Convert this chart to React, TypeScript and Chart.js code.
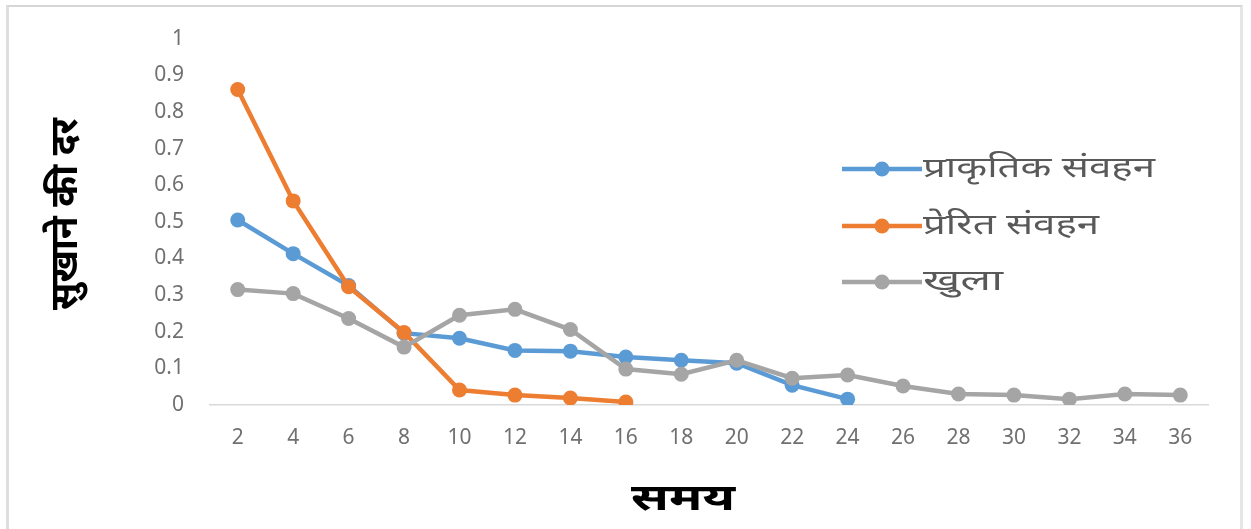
import React, { useEffect, useRef } from "react";
import { Chart, registerables } from "chart.js";

Chart.register(...registerables);

// Time (x-axis categories)
const timeLabels = ["2", "4", "6", "8", "10", "12", "14", "16", "18", "20", "22", "24", "26", "28", "30", "32", "34", "36"];

// Drying rate for each method
const naturalConvection = [0.505, 0.413, 0.326, 0.196, 0.182, 0.149, 0.147, 0.131, 0.122, 0.114, 0.054, 0.016, null, null, null, null, null, null];
const forcedConvection = [0.861, 0.557, 0.323, 0.198, 0.041, 0.027, 0.019, 0.008, null, null, null, null, null, null, null, null, null, null];
const openSun = [0.315, 0.304, 0.236, 0.158, 0.245, 0.261, 0.206, 0.098, 0.084, 0.122, 0.073, 0.082, 0.052, 0.030, 0.027, 0.016, 0.030, 0.027];

const seriesNames = ["प्राकृतिक संवहन", "प्रेरित संवहन", "खुला"];
const seriesColors = ["#5B9BD5", "#ED7D31", "#A5A5A5"];

const yTicks = [0, 0.1, 0.2, 0.3, 0.4, 0.5, 0.6, 0.7, 0.8, 0.9, 1];
const xTitle = "समय";
const yTitle = "सुखाने की दर";

const FONT = "'Noto Sans', 'DejaVu Sans', sans-serif";

// Draws text stretched horizontally to a given width
function drawWideText(ctx: CanvasRenderingContext2D, text: string, x: number, y: number, width: number) {
  const w = ctx.measureText(text).width;
  const sx = width / w;
  ctx.save();
  ctx.translate(x, y);
  ctx.scale(sx, 1);
  ctx.fillText(text, 0, 0);
  ctx.restore();
}

// Legend sits inside the plot, plus the two bold axis titles
const overlayPlugin = {
  id: "overlay",
  afterDraw(chart: any) {
    const { ctx } = chart;
    ctx.save();
    // legend
    const lx0 = 842;
    const lx1 = 922;
    const rows = [169, 226, 282];
    const widths = [232, 176, 80];
    seriesNames.forEach((name, i) => {
      const y = rows[i];
      ctx.strokeStyle = seriesColors[i];
      ctx.lineWidth = 4.5;
      ctx.beginPath();
      ctx.moveTo(lx0, y);
      ctx.lineTo(lx1, y);
      ctx.stroke();
      ctx.fillStyle = seriesColors[i];
      ctx.beginPath();
      ctx.arc((lx0 + lx1) / 2, y, 7.5, 0, Math.PI * 2);
      ctx.fill();
      ctx.fillStyle = "#595959";
      ctx.font = `28px ${FONT}`;
      ctx.textAlign = "left";
      ctx.textBaseline = "middle";
      drawWideText(ctx, name, lx1 + 1, y, widths[i]);
    });
    // axis titles
    ctx.fillStyle = "#000";
    ctx.textAlign = "left";
    ctx.textBaseline = "middle";
    ctx.font = `bold 36px ${FONT}`;
    drawWideText(ctx, xTitle, 631, 500, 104);
    ctx.translate(66, 214);
    ctx.rotate(-Math.PI / 2);
    ctx.font = `bold 38px ${FONT}`;
    drawWideText(ctx, yTitle, -96, 0, 192);
    ctx.restore();
  },
};

export default function App() {
  const canvasRef = useRef<HTMLCanvasElement | null>(null);

  useEffect(() => {
    const canvas = canvasRef.current;
    if (!canvas) return;
    const mk = (label: string, data: (number | null)[], color: string, order: number) => ({
      label,
      data,
      borderColor: color,
      backgroundColor: color,
      borderWidth: 4.5,
      pointRadius: 7.5,
      pointHoverRadius: 7.5,
      pointBorderWidth: 0,
      pointBackgroundColor: color,
      spanGaps: false,
      tension: 0,
      order,
    });
    const chart = new Chart(canvas, {
      type: "line",
      data: {
        labels: timeLabels,
        datasets: [
          mk(seriesNames[0], naturalConvection, seriesColors[0], 3),
          mk(seriesNames[1], forcedConvection, seriesColors[1], 2),
          mk(seriesNames[2], openSun, seriesColors[2], 1),
        ],
      },
      options: {
        animation: false,
        responsive: false,
        layout: { padding: { top: 37, right: 43, bottom: 0, left: 0 } },
        plugins: {
          legend: { display: false },
          tooltip: { enabled: false },
          title: { display: false },
        },
        scales: {
          x: {
            offset: true,
            grid: { display: false, drawTicks: false },
            border: { display: true, color: "#D9D9D9", width: 1.5 },
            ticks: {
              color: "#707070",
              font: { size: 21, family: FONT },
              padding: 20,
              maxRotation: 0,
              autoSkip: false,
            },
            afterFit: (s: any) => {
              s.height = 124;
            },
          },
          y: {
            min: 0,
            max: 1,
            afterBuildTicks: (s: any) => {
              s.ticks = yTicks.map((v) => ({ value: v }));
            },
            grid: { display: false, drawTicks: false },
            border: { display: false },
            ticks: {
              color: "#707070",
              font: { size: 21, family: FONT },
              padding: 26,
              callback: (v: any) => String(Math.round(Number(v) * 10) / 10),
            },
            afterFit: (s: any) => {
              s.width = 210;
            },
          },
        },
      },
      plugins: [overlayPlugin],
    });
    return () => chart.destroy();
  }, []);

  return (
    <div style={{ position: "fixed", left: 0, top: 0, width: 1251, height: 529, background: "#fff", overflow: "hidden" }}>
      <canvas ref={canvasRef} width={1251} height={529} style={{ position: "absolute", left: 0, top: 0 }} />
      <div
        style={{
          position: "absolute",
          left: 6,
          top: 5,
          width: 1237,
          height: 540,
          borderTop: "2px solid #d6d6d6",
          borderLeft: "3px solid #dedede",
          borderRight: "3px solid #e6e6e6",
          boxSizing: "border-box",
          pointerEvents: "none",
        }}
      />
    </div>
  );
}
